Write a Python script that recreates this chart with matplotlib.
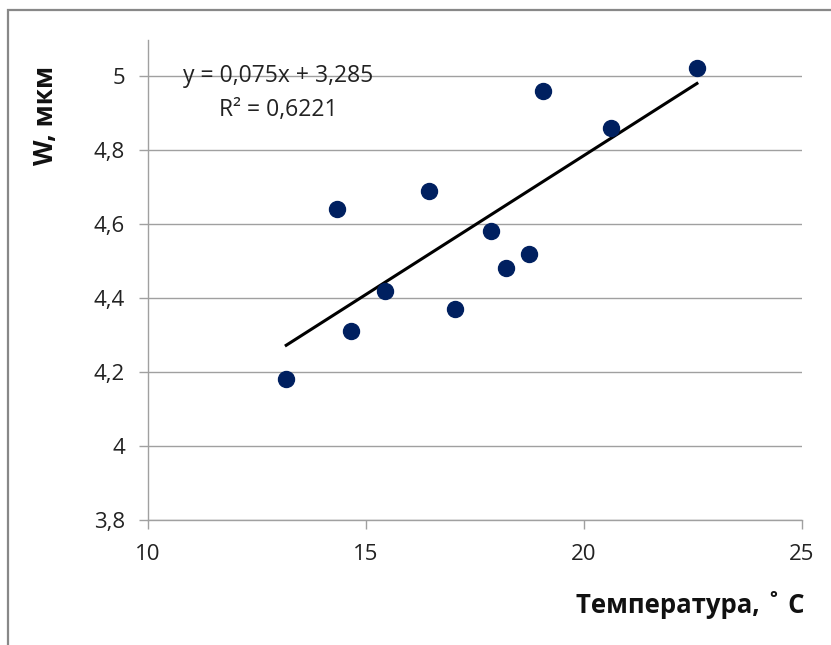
import matplotlib
matplotlib.use("Agg")
import matplotlib.pyplot as plt
import numpy as np
from matplotlib.patches import Rectangle

temperature = [13.17, 14.33, 14.66, 15.44, 16.44, 17.04, 17.87, 18.21, 18.74, 19.06, 20.62, 22.59]
width_um = [4.18, 4.64, 4.31, 4.42, 4.69, 4.37, 4.58, 4.48, 4.52, 4.96, 4.86, 5.02]
x_ticks = [10, 15, 20, 25]
y_ticks = [3.8, 4.0, 4.2, 4.4, 4.6, 4.8, 5.0]
y_tick_labels = ["3,8", "4", "4,2", "4,4", "4,6", "4,8", "5"]
equation_text = "y = 0,075x + 3,285"
r2_text = "R² = 0,6221"

plt.rcParams['font.family'] = ['Open Sans', 'DejaVu Sans']

fig = plt.figure(figsize=(8.31, 6.45), dpi=100)
fig.patches.append(Rectangle((8/831, -0.1), 1.2, 1 - 10/645 + 0.1, transform=fig.transFigure,
                             fill=False, edgecolor='#888888', linewidth=1.6))

ax = fig.add_axes([148/831, 1 - 520/645, (802 - 148)/831, (520 - 40)/645])
ax.set_xlim(10, 25)
ax.set_ylim(3.8, 5.097)

ax.set_yticks(y_ticks)
ax.set_yticklabels(y_tick_labels)
ax.set_xticks(x_ticks)
ax.grid(axis='y', color='#a0a0a0', linewidth=1.0)
ax.set_axisbelow(True)

for s in ['top', 'right']:
    ax.spines[s].set_visible(False)
for s in ['left', 'bottom']:
    ax.spines[s].set_color('#a0a0a0')
    ax.spines[s].set_linewidth(1.0)
ax.tick_params(axis='both', colors='#a0a0a0', length=6.5, width=1.0, labelcolor='#222222', labelsize=16)
ax.tick_params(axis='x', pad=11)
ax.tick_params(axis='y', pad=10)

x = np.array(temperature)
y = np.array(width_um)
k, b = np.polyfit(x, y, 1)
xl = np.array([x.min(), x.max()])
ax.plot(xl, k * xl + b, color='black', linewidth=2.2, zorder=2)
ax.plot(x, y, 'o', color='#002060', markersize=11.5, zorder=3, clip_on=False)

ax.text(12.98, 5.0, equation_text, ha='center', va='center', fontsize=16.5, color='#222222')
ax.text(12.98, 4.908, r2_text, ha='center', va='center', fontsize=16.5, color='#222222')

fig.text(45/831, 1 - 115/645, "W, мкм", rotation=90, ha='center', va='center',
         fontsize=19, fontweight='bold', color='#111111')
fig.text(805/831, 1 - 605/645, "Температура, ˚ C", ha='right', va='center',
         fontsize=18.5, fontweight='bold', color='#111111')

fig.savefig("out.png", dpi=100)
